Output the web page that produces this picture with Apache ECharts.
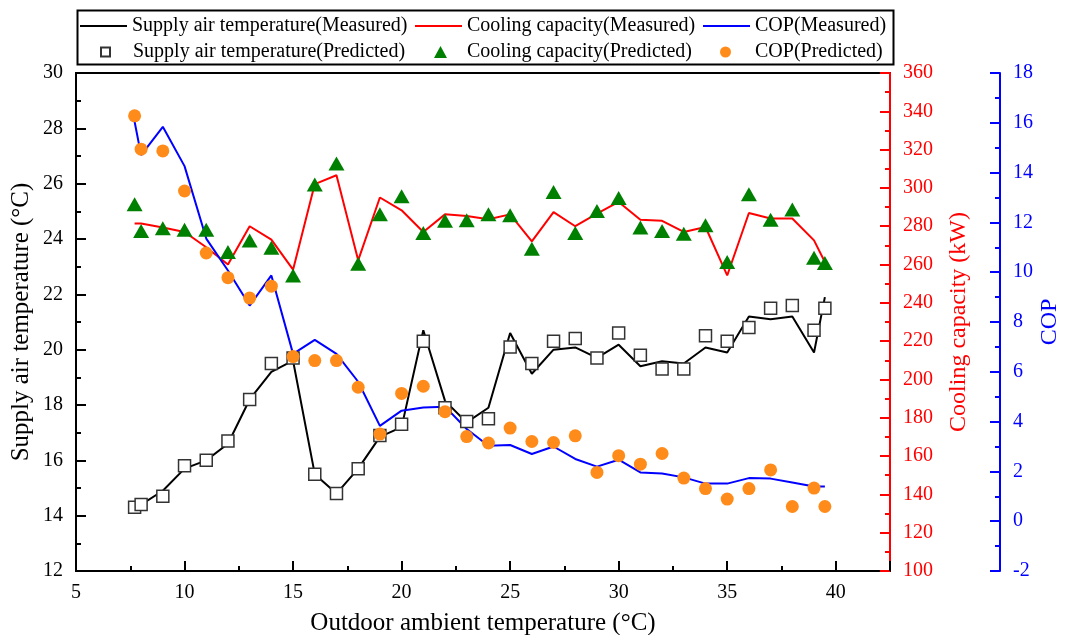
<!DOCTYPE html>
<html>
<head>
<meta charset="utf-8">
<script src="https://cdn.jsdelivr.net/npm/echarts@6/dist/echarts.min.js"></script>
<style>
html,body{margin:0;padding:0;background:#fff;}
#chart{width:1065px;height:635px;}
</style>
</head>
<body>
<div id="chart"></div>
<script>
// Outdoor ambient temperature (°C)
var xs = [7.7, 8, 9, 10, 11, 12, 13, 14, 15, 16, 17, 18, 19, 20, 21, 22, 23, 24, 25, 26, 27, 28, 29, 30, 31, 32, 33, 34, 35, 36, 37, 38, 39, 39.5];

var supplyMeasured = [14.2, 14.4, 14.9, 15.7, 16.0, 16.6, 18.2, 19.2, 19.6, 15.5, 14.8, 15.7, 16.85, 17.2, 20.7, 18.15, 17.37, 17.9, 20.6, 19.13, 20.0, 20.08, 19.7, 20.18, 19.4, 19.58, 19.5, 20.08, 19.9, 21.2, 21.1, 21.2, 19.9, 21.9];
var supplyPredicted = [14.3, 14.4, 14.7, 15.8, 16.0, 16.7, 18.2, 19.5, 19.7, 15.5, 14.8, 15.7, 16.9, 17.3, 20.3, 17.9, 17.4, 17.5, 20.1, 19.5, 20.3, 20.4, 19.7, 20.6, 19.8, 19.3, 19.3, 20.5, 20.3, 20.8, 21.5, 21.6, 20.7, 21.5];

var coolingMeasured = [281.4, 281.4, 279.3, 277, 269, 260, 280, 273, 257.3, 302, 306.6, 262.2, 295, 288.3, 277, 286.2, 285.4, 283.6, 286.2, 272.1, 287.4, 280, 286.6, 292.7, 283.4, 282.8, 277, 279.6, 254.3, 286.9, 284, 284, 272.6, 261.3];
var coolingPredicted = [291.5, 277.5, 279, 278.2, 278.2, 266.5, 272.6, 268.8, 254.3, 301.8, 312.8, 260.4, 286.2, 295.7, 276.5, 282.8, 283.1, 286.2, 285.7, 268.3, 297.9, 276.5, 288, 294.8, 279.3, 277.5, 276.1, 280.5, 261.3, 296.7, 283.4, 288.7, 263.6, 260.8];

var copMeasured = [16.04, 14.7, 15.84, 14.26, 11.35, 10.07, 8.66, 9.87, 6.72, 7.28, 6.72, 5.6, 3.83, 4.44, 4.57, 4.6, 3.7, 3.03, 3.06, 2.7, 3.0, 2.5, 2.19, 2.47, 1.96, 1.92, 1.76, 1.51, 1.51, 1.73, 1.71, 1.55, 1.39, 1.39];
var copPredicted = [16.28, 14.94, 14.87, 13.26, 10.77, 9.78, 8.96, 9.44, 6.61, 6.45, 6.45, 5.38, 3.5, 5.13, 5.42, 4.4, 3.4, 3.14, 3.74, 3.2, 3.16, 3.43, 1.96, 2.63, 2.29, 2.72, 1.73, 1.31, 0.89, 1.31, 2.06, 0.59, 1.33, 0.59];

var seriesNames = [
  'Supply air temperature(Measured)', 'Cooling capacity(Measured)', 'COP(Measured)',
  'Supply air temperature(Predicted)', 'Cooling capacity(Predicted)', 'COP(Predicted)'
];

function pairs(ys) { return xs.map(function (x, i) { return [x, ys[i]]; }); }

var FONT = 'Liberation Serif';

function legLine(name, left, top) {
  return { data: [{ name: name, icon: 'rect' }], left: left, top: top, itemWidth: 47, itemHeight: 2, padding: 0,
    selectedMode: false,
    textStyle: { fontFamily: FONT, fontSize: 20, color: '#000', lineHeight: 22 } };
}
function legSym(name, icon, left, top, w, h, padLeft) {
  return { data: [{ name: name, icon: icon }], left: left, top: top, itemWidth: w, itemHeight: h, padding: 0,
    selectedMode: false,
    textStyle: { fontFamily: FONT, fontSize: 20, color: '#000', lineHeight: 22, padding: [0, 0, 0, padLeft] } };
}

function yAxisCommon(color, nameSize) {
  return {
    type: 'value',
    splitLine: { show: false },
    axisLine: { show: true, lineStyle: { color: color, width: 2 } },
    axisTick: { show: true, inside: true, length: 10, lineStyle: { color: color, width: 2 } },
    minorTick: { show: true, splitNumber: 2, length: 5, lineStyle: { color: color, width: 2 } },
    axisLabel: { color: color, fontFamily: FONT, fontSize: 20, margin: 13 },
    nameLocation: 'middle',
    nameRotate: 90,
    nameMoveOverlap: false,
    nameTextStyle: { color: color, fontFamily: FONT, fontSize: nameSize }
  };
}

var yLeft = Object.assign(yAxisCommon('#000', 25), {
  min: 12, max: 30, interval: 2, position: 'left',
  name: 'Supply air temperature (°C)', nameGap: 42
});
var yRed = Object.assign(yAxisCommon('#ff0000', 24), {
  min: 100, max: 360, interval: 20, position: 'right',
  name: 'Cooling capacity (kW)', nameGap: 57
});
var yBlue = Object.assign(yAxisCommon('#0000ff', 24), {
  min: -2, max: 18, interval: 2, position: 'right', offset: 110,
  name: 'COP', nameGap: 38
});

var chart = echarts.init(document.getElementById('chart'), null, { renderer: 'canvas' });
chart.setOption({
  animation: false,
  backgroundColor: '#fff',
  textStyle: { fontFamily: FONT },
  grid: { left: 76, right: 175, top: 73, bottom: 64, outerBoundsMode: 'none', containLabel: false,
    show: true, borderColor: '#000', borderWidth: 2, backgroundColor: 'transparent' },
  graphic: [{
    type: 'rect', left: 75, top: 8, z: 100,
    shape: { width: 816, height: 54 },
    style: { fill: 'none', stroke: '#000', lineWidth: 2 }
  }],
  legend: [
    legLine(seriesNames[0], 80, 15),
    legLine(seriesNames[1], 415, 15),
    legLine(seriesNames[2], 703, 15),
    legSym(seriesNames[3], 'rect', 100, 41, 9, 9, 18),
    legSym(seriesNames[4], 'triangle', 434, 41, 13, 12, 15),
    legSym(seriesNames[5], 'circle', 720, 41, 11, 11, 19)
  ],
  xAxis: {
    type: 'value', min: 5, max: 42.5, interval: 5,
    splitLine: { show: false },
    axisLine: { show: true, onZero: false, lineStyle: { color: '#000', width: 2 } },
    axisTick: { show: true, inside: true, length: 10, lineStyle: { color: '#000', width: 2 } },
    minorTick: { show: true, splitNumber: 2, length: 5, lineStyle: { color: '#000', width: 2 } },
    axisLabel: { color: '#000', fontFamily: FONT, fontSize: 20, margin: 12, showMaxLabel: false },
    name: 'Outdoor ambient temperature (°C)', nameLocation: 'middle', nameGap: 40,
    nameMoveOverlap: false,
    nameTextStyle: { color: '#000', fontFamily: FONT, fontSize: 25 }
  },
  yAxis: [yLeft, yRed, yBlue],
  series: [
    { name: seriesNames[0], type: 'line', yAxisIndex: 0, data: pairs(supplyMeasured), symbol: 'none',
      lineStyle: { color: '#000', width: 2 }, itemStyle: { color: '#000' }, z: 2 },
    { name: seriesNames[1], type: 'line', yAxisIndex: 1, data: pairs(coolingMeasured), symbol: 'none',
      lineStyle: { color: '#ff0000', width: 2 }, itemStyle: { color: '#ff0000' }, z: 2 },
    { name: seriesNames[2], type: 'line', yAxisIndex: 2, data: pairs(copMeasured), symbol: 'none',
      lineStyle: { color: '#0000ff', width: 2 }, itemStyle: { color: '#0000ff' }, z: 2 },
    { name: seriesNames[3], type: 'scatter', yAxisIndex: 0, data: pairs(supplyPredicted), symbol: 'rect', symbolSize: 12,
      itemStyle: { color: '#fff', borderColor: '#333', borderWidth: 1.5, opacity: 1 }, z: 3 },
    { name: seriesNames[4], type: 'scatter', yAxisIndex: 1, data: pairs(coolingPredicted), symbol: 'triangle', symbolSize: [16, 14],
      itemStyle: { color: '#008000', opacity: 1 }, z: 3 },
    { name: seriesNames[5], type: 'scatter', yAxisIndex: 2, data: pairs(copPredicted), symbol: 'circle', symbolSize: 13,
      itemStyle: { color: '#ff8c1a', opacity: 1 }, z: 3 }
  ]
});
</script>
</body>
</html>
